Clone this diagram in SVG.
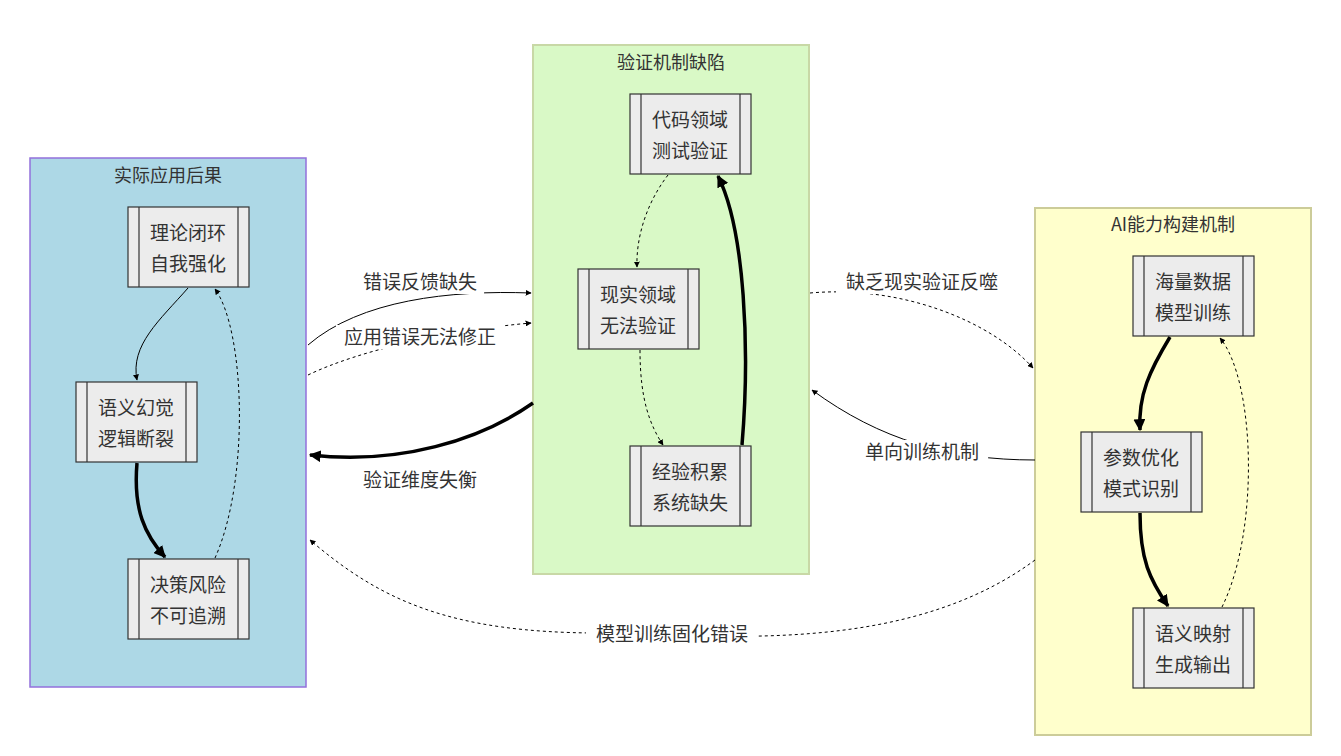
<svg xmlns="http://www.w3.org/2000/svg" width="1341" height="756" viewBox="0 0 1341 756">
<style>
text{font-family:"Noto Sans CJK SC","Liberation Sans",sans-serif;fill:#333;font-size:19px;text-anchor:middle}
.t{font-size:18px}
.n rect{fill:#ececec;stroke:#333;stroke-width:1.2}
.n line{stroke:#333;stroke-width:1.2}
.e{fill:none;stroke:#000}
.th{stroke-width:3.5}
.d{stroke-dasharray:3 3}
.lb{fill:#fff}
</style>
<defs>
<marker id="a" viewBox="0 0 10 10" refX="9" refY="5" markerWidth="6" markerHeight="6" orient="auto" markerUnits="userSpaceOnUse" ><path d="M0,0L10,5L0,10z" fill="#000"/></marker>
<marker id="ab" viewBox="0 0 10 10" refX="9" refY="5" markerWidth="12" markerHeight="12" orient="auto" markerUnits="userSpaceOnUse"><path d="M0,0L10,5L0,10z" fill="#000"/></marker>
</defs>
<rect width="1341" height="756" fill="#fff"/>
<g id="c1"><rect x="30" y="158" width="276" height="529" fill="#add8e6" stroke="#9370db" stroke-width="1.5"/><text x="168" y="182" class="t">实际应用后果</text></g>
<g id="c2"><rect x="533" y="45" width="276" height="529" fill="#d9f9c6" stroke="#c8d8a6" stroke-width="2"/><text x="671" y="69" class="t">验证机制缺陷</text></g>
<g id="c3"><rect x="1035" y="208" width="276" height="527" fill="#ffffcc" stroke="#cccc99" stroke-width="2"/><text x="1173" y="231" class="t">AI能力构建机制</text></g>
<g id="edges">
<path class="e" d="M308,345 C360,300 450,290 531,293" marker-end="url(#a)"/>
<path class="e d" d="M308,375 C360,350 450,330 531,323" marker-end="url(#a)"/>
<path class="e th" d="M533,403 C480,440 400,465 310,455" marker-end="url(#ab)"/>
<path class="e d" d="M810,293 C900,285 990,320 1033,368" marker-end="url(#a)"/>
<path class="e" d="M1035,460 C950,460 880,440 812,390" marker-end="url(#a)"/>
<path class="e d" d="M1035,560 C900,660 700,633 600,633 C450,633 380,600 310,540" marker-end="url(#a)"/>
<path class="e" d="M188,288 C160,320 130,345 137,380" marker-end="url(#a)"/>
<path class="e th" d="M137,463 C133,510 145,535 165,557" marker-end="url(#ab)"/>
<path class="e d" d="M215,558 C250,480 245,330 215,289" marker-end="url(#a)"/>
<path class="e d" d="M668,175 C645,205 636,240 637,267" marker-end="url(#a)"/>
<path class="e d" d="M640,350 C640,400 650,425 663,445" marker-end="url(#a)"/>
<path class="e th" d="M742,445 C750,350 745,230 718,176" marker-end="url(#ab)"/>
<path class="e th" d="M1170,337 C1150,370 1138,395 1140,430" marker-end="url(#ab)"/>
<path class="e th" d="M1140,513 C1140,560 1150,580 1168,606" marker-end="url(#ab)"/>
<path class="e d" d="M1222,607 C1260,530 1255,380 1220,338" marker-end="url(#a)"/>
</g>
<g id="labels">
<rect class="lb" x="356" y="270" width="128" height="24"/><text x="420" y="289">错误反馈缺失</text>
<rect class="lb" x="336" y="325" width="168" height="24"/><text x="420" y="344">应用错误无法修正</text>
<rect class="lb" x="356" y="468" width="128" height="24"/><text x="420" y="487">验证维度失衡</text>
<rect class="lb" x="836" y="270" width="172" height="24"/><text x="922" y="289">缺乏现实验证反噬</text>
<rect class="lb" x="856" y="440" width="132" height="24"/><text x="922" y="459">单向训练机制</text>
<rect class="lb" x="586" y="622" width="172" height="24"/><text x="672" y="641">模型训练固化错误</text>
</g>
<g id="n1" class="n"><rect x="128" y="207" width="121" height="80"/><line x1="139" y1="207" x2="139" y2="287"/><line x1="238" y1="207" x2="238" y2="287"/><text x="188" y="240">理论闭环</text><text x="188" y="271">自我强化</text></g>
<g id="n2" class="n"><rect x="76" y="382" width="121" height="80"/><line x1="87" y1="382" x2="87" y2="462"/><line x1="186" y1="382" x2="186" y2="462"/><text x="136" y="415">语义幻觉</text><text x="136" y="446">逻辑断裂</text></g>
<g id="n3" class="n"><rect x="128" y="559" width="121" height="80"/><line x1="139" y1="559" x2="139" y2="639"/><line x1="238" y1="559" x2="238" y2="639"/><text x="188" y="592">决策风险</text><text x="188" y="623">不可追溯</text></g>
<g id="n4" class="n"><rect x="630" y="94" width="121" height="80"/><line x1="641" y1="94" x2="641" y2="174"/><line x1="740" y1="94" x2="740" y2="174"/><text x="690" y="127">代码领域</text><text x="690" y="158">测试验证</text></g>
<g id="n5" class="n"><rect x="578" y="269" width="121" height="80"/><line x1="589" y1="269" x2="589" y2="349"/><line x1="688" y1="269" x2="688" y2="349"/><text x="638" y="302">现实领域</text><text x="638" y="333">无法验证</text></g>
<g id="n6" class="n"><rect x="630" y="446" width="121" height="80"/><line x1="641" y1="446" x2="641" y2="526"/><line x1="740" y1="446" x2="740" y2="526"/><text x="690" y="479">经验积累</text><text x="690" y="510">系统缺失</text></g>
<g id="n7" class="n"><rect x="1133" y="256" width="121" height="80"/><line x1="1144" y1="256" x2="1144" y2="336"/><line x1="1243" y1="256" x2="1243" y2="336"/><text x="1193" y="289">海量数据</text><text x="1193" y="320">模型训练</text></g>
<g id="n8" class="n"><rect x="1081" y="432" width="121" height="80"/><line x1="1092" y1="432" x2="1092" y2="512"/><line x1="1191" y1="432" x2="1191" y2="512"/><text x="1141" y="465">参数优化</text><text x="1141" y="496">模式识别</text></g>
<g id="n9" class="n"><rect x="1133" y="608" width="121" height="80"/><line x1="1144" y1="608" x2="1144" y2="688"/><line x1="1243" y1="608" x2="1243" y2="688"/><text x="1193" y="641">语义映射</text><text x="1193" y="672">生成输出</text></g>
</svg>
